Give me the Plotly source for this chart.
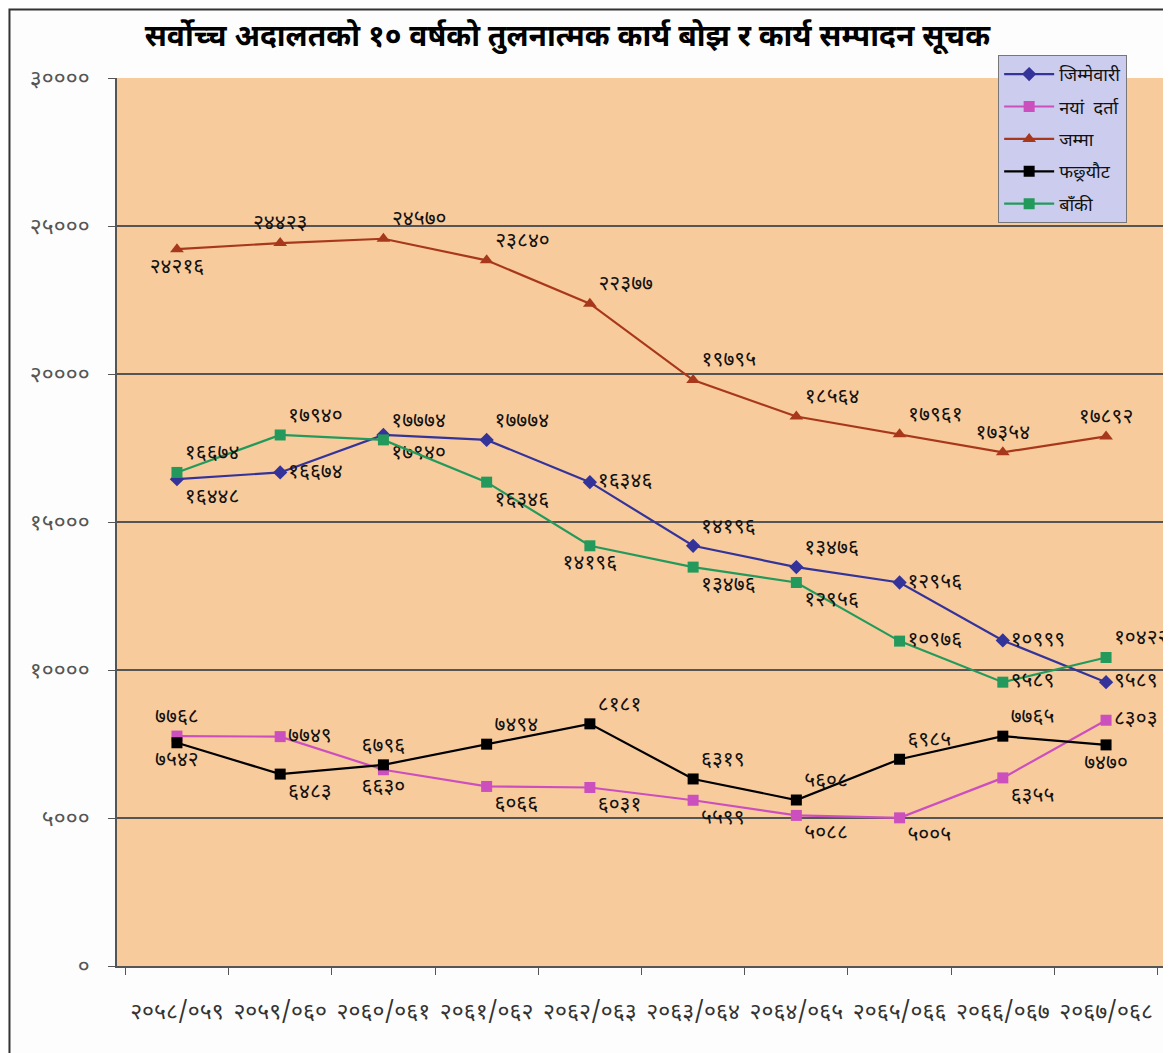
import plotly.graph_objects as go

years = ["२०५८/०५९", "२०५९/०६०", "२०६०/०६१", "२०६१/०६२", "२०६२/०६३",
         "२०६३/०६४", "२०६४/०६५", "२०६५/०६६", "२०६६/०६७", "२०६७/०६८"]

jimmewari = [16448, 16674, 17940, 17774, 16346, 14196, 13476, 12956, 10999, 9589]
naya_darta = [7768, 7749, 6630, 6066, 6031, 5599, 5088, 5005, 6355, 8303]
jamma = [24216, 24423, 24570, 23840, 22377, 19795, 18564, 17961, 17354, 17892]
faisyaut = [7542, 6483, 6796, 7494, 8181, 6319, 5608, 6985, 7765, 7470]
baki = [16674, 17940, 17774, 16346, 14196, 13476, 12956, 10976, 9589, 10422]

y_ticks = [0, 5000, 10000, 15000, 20000, 25000, 30000]

DEV = str.maketrans("0123456789", "०१२३४५६७८९")


def dev(n):
    return str(n).translate(DEV)


FONT = "Noto Sans Devanagari, Lohit Devanagari, Mangal, FreeSans, sans-serif"

series = [
    ("जिम्मेवारी", jimmewari, "#33339A", "diamond", 11,
     ["bottom right", "middle right", "bottom right", "top right", "middle right",
      "top right", "top right", "middle right", "middle right", "middle right"]),
    ("नयां  दर्ता", naya_darta, "#CC4FBE", "square", 11,
     ["top center", "middle right", "bottom center", "bottom right", "bottom right",
      "bottom right", "bottom right", "bottom right", "bottom right", "middle right"]),
    ("जम्मा", jamma, "#A8381C", "triangle-up", 12,
     ["bottom center", "top center", "top right", "top right", "top right",
      "top right", "top right", "top right", "top center", "top center"]),
    ("फछ्र्यौट", faisyaut, "#000000", "square", 11,
     ["bottom center", "bottom right", "top center", "top right", "top right",
      "top right", "top right", "top right", "top right", "bottom center"]),
    ("बाँकी", baki, "#239A5C", "square", 11,
     ["top right", "top right", "top right", "bottom right", "bottom center",
      "bottom right", "bottom right", "middle right", "middle right", "top right"]),
]

fig = go.Figure()
for name, vals, color, symbol, size, pos in series:
    fig.add_trace(go.Scatter(
        x=years, y=vals, name=name, legendgroup=name,
        mode="lines+markers+text",
        line=dict(color=color, width=2.2),
        marker=dict(symbol=symbol, size=size, color=color),
        text=[dev(v) for v in vals],
        textposition=pos,
        textfont=dict(family=FONT, size=21, color="#111111"),
        cliponaxis=False,
    ))

# the page adds an 8px body margin, so the figure is sized to fit inside it
fig.update_layout(
    width=1163, height=1045,
    margin=dict(l=109, r=3, t=70, b=87),
    paper_bgcolor="#FDFDFD",
    plot_bgcolor="#F8CB9C",
    font=dict(family=FONT, color="#111111"),
    title=dict(
        text="<b>सर्वोच्च अदालतको १० वर्षको तुलनात्मक कार्य बोझ र कार्य सम्पादन सूचक</b>",
        x=0.481, xanchor="center", y=0.974, yanchor="middle",
        font=dict(family=FONT, size=30, color="#000000"),
    ),
    legend=dict(
        x=0.840, y=1.026, xanchor="left", yanchor="top",
        bgcolor="#CCCCEE", bordercolor="#777777", borderwidth=1,
        font=dict(family=FONT, size=18, color="#111111"),
        tracegroupgap=6, itemwidth=50,
    ),
    showlegend=True,
)

fig.update_xaxes(
    type="category",
    showgrid=False,
    showline=True, linecolor="#555555", linewidth=1.5,
    ticks="outside", tickson="boundaries", ticklen=7, tickcolor="#555555",
    tickfont=dict(family=FONT, size=23, color="#333333"),
    ticklabelstandoff=24,
)
fig.update_yaxes(
    range=[0, 30000],
    tickvals=y_ticks,
    ticktext=[dev(v) for v in y_ticks],
    showgrid=True, gridcolor="#555555", gridwidth=1.5,
    zeroline=False,
    showline=True, linecolor="#555555", linewidth=1.5, mirror=True,
    ticks="outside", ticklen=7, tickcolor="#555555",
    tickfont=dict(family=FONT, size=23, color="#555555"),
    ticklabelstandoff=14,
)

# outer frame of the chart
fig.add_shape(type="rect", xref="paper", yref="paper",
              x0=-0.1025, x1=1.01, y0=-0.2, y1=1.077,
              line=dict(color="#333333", width=2), fillcolor="rgba(0,0,0,0)",
              layer="below")

fig.write_html("out.html")
